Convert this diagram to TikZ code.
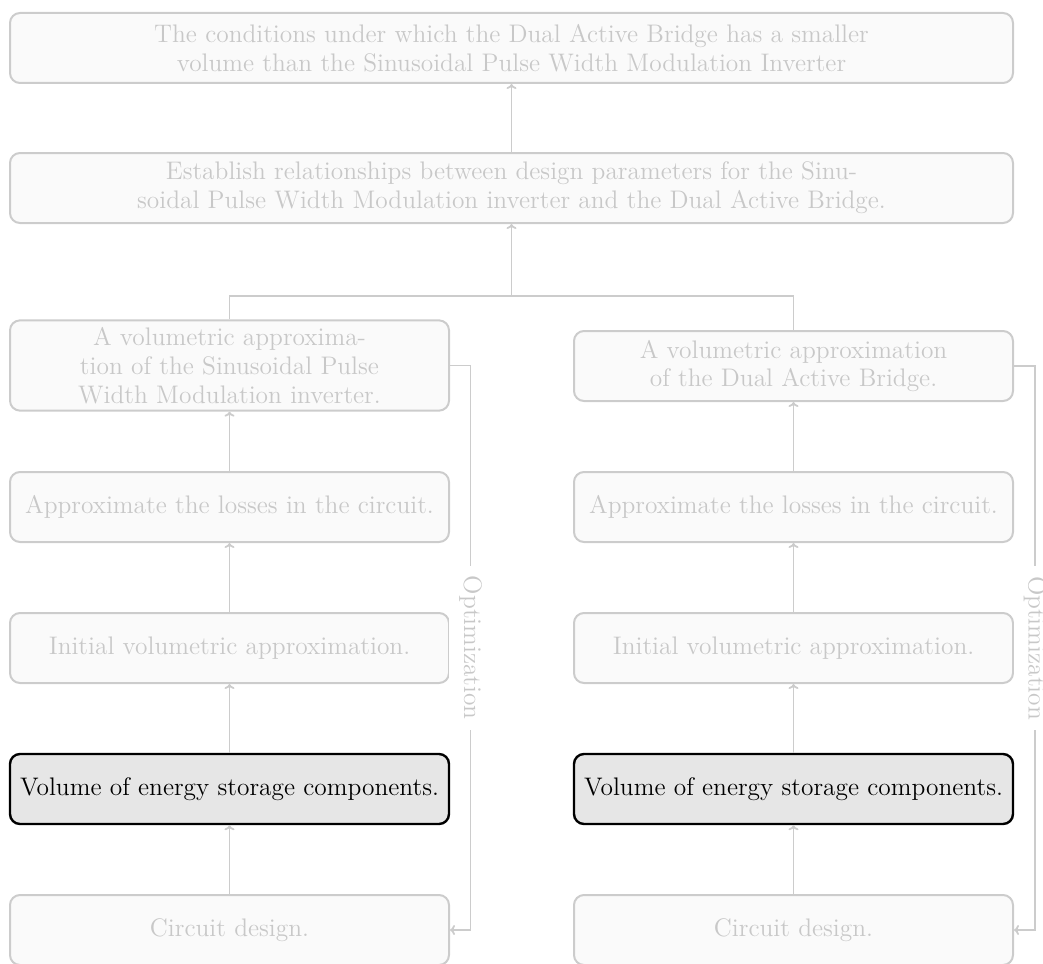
\documentclass[tikz,border=0pt]{standalone}
\usetikzlibrary{calc,arrows.meta}
\definecolor{fadeline}{RGB}{204,204,204}
\definecolor{fadefill}{RGB}{250,250,250}
\definecolor{fadetext}{RGB}{200,200,200}
\definecolor{hlfill}{RGB}{230,230,230}
\tikzset{
  box/.style={draw=fadeline, fill=fadefill, text=fadetext, line width=1pt,
    rounded corners=5pt, align=center, inner xsep=4pt, inner ysep=3.5pt,
    minimum height=35pt, font=\fontsize{12.7}{14.4}\selectfont},
  colbox/.style={box, minimum width=219.5pt},
  widebox/.style={box, minimum width=501.5pt},
  hlbox/.style={colbox, draw=black, fill=hlfill, text=black, line width=1.2pt},
  conn/.style={draw=fadeline, line width=0.9pt},
  arr/.style={conn, -{To[width=5pt,length=2.5pt]}},
  optlabel/.style={fill=white, text=fadetext, rotate=-90, inner sep=5pt,
    font=\fontsize{12.7}{14.4}\selectfont}
}
\begin{document}
\begin{tikzpicture}[x=0.5pt, y=-0.5pt]
\useasboundingbox (0,0) rectangle (1043,963);
% top
\node[widebox] (T) at (511.5,48) {The conditions under which the Dual Active Bridge has a smaller\\volume than the Sinusoidal Pulse Width Modulation Inverter};
\node[widebox] (S) at (511.5,188) {Establish relationships between design parameters for the Sinu-\\soidal Pulse Width Modulation inverter and the Dual Active Bridge.};
% left column
\node[colbox] (L3) at (229.5,365.5) {A volumetric approxima-\\tion of the Sinusoidal Pulse\\Width Modulation inverter.};
\node[colbox] (L4) at (229.5,507) {Approximate the losses in the circuit.};
\node[colbox] (L5) at (229.5,648) {Initial volumetric approximation.};
\node[hlbox]  (L6) at (229.5,789) {Volume of energy storage components.};
\node[colbox] (L7) at (229.5,930) {Circuit design.};
% right column
\node[colbox] (R3) at (793.5,366) {A volumetric approximation\\of the Dual Active Bridge.};
\node[colbox] (R4) at (793.5,507) {Approximate the losses in the circuit.};
\node[colbox] (R5) at (793.5,648) {Initial volumetric approximation.};
\node[hlbox]  (R6) at (793.5,789) {Volume of energy storage components.};
\node[colbox] (R7) at (793.5,930) {Circuit design.};
% coordinates
\coordinate (J) at (511.5,296);
\coordinate (optL) at (470.5,0);
\coordinate (optR) at (1035,0);
% connectors
\draw[arr] (S.north) -- (T.south);
\draw[conn] (L3.north) |- (J) -| (R3.north);
\draw[arr] (J) -- (S.south);
\draw[arr] (L4.north) -- (L3.south);
\draw[arr] (L5.north) -- (L4.south);
\draw[arr] (L6.north) -- (L5.south);
\draw[arr] (L7.north) -- (L6.south);
\draw[arr] (R4.north) -- (R3.south);
\draw[arr] (R5.north) -- (R4.south);
\draw[arr] (R6.north) -- (R5.south);
\draw[arr] (R7.north) -- (R6.south);
\draw[arr] (L3.east) -- (L3.east -| optL) |- node[pos=0.25, optlabel] {Optimization} (L7.east);
\draw[arr] (R3.east) -- (R3.east -| optR) |- node[pos=0.25, optlabel] {Optimization} (R7.east);
\end{tikzpicture}
\end{document}
